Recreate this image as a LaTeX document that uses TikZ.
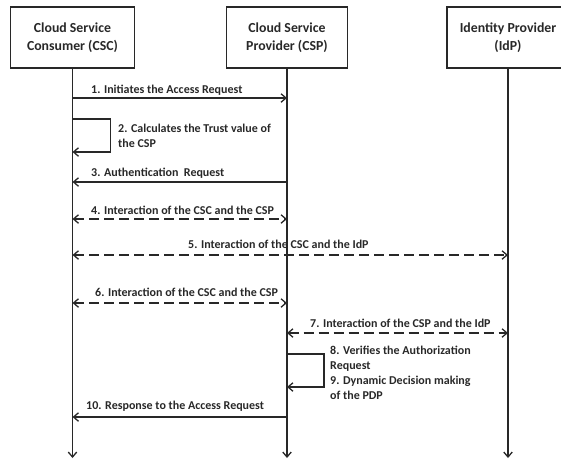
\documentclass[tikz,border=0pt]{standalone}
\usepackage{fontspec}
\setmainfont{Carlito}
\usepackage{tikz}
\usetikzlibrary{arrows.meta,positioning,calc}
\definecolor{seqgray}{RGB}{40,40,40}

\begin{document}
\begin{tikzpicture}[x=1pt, y=-1pt,
    actor/.style={rectangle, draw=seqgray, line width=1.5pt, minimum width=124pt, minimum height=61pt,
                 align=center, font=\fontsize{13.8}{18}\selectfont\bfseries, text=seqgray},
    life/.style={-{Straight Barb[length=5pt,width=8.5pt]}, line width=1.3pt, seqgray},
    msg/.style={-{Straight Barb[length=5pt,width=8.5pt]}, line width=1.3pt, seqgray},
    both/.style={{Straight Barb[length=5pt,width=8.5pt]}-{Straight Barb[length=5pt,width=8.5pt]},
                 line width=1.3pt, seqgray, dash pattern=on 10pt off 5pt},
    lbl/.style={anchor=west, inner sep=0pt, align=left, text=seqgray,
                font=\fontsize{12}{15}\selectfont\bfseries}
]
    \clip (0,0) rectangle (561,459);

    % participants
    \node[actor] (csc) at (72.5,37.5) {Cloud Service\\Consumer (CSC)};
    \node[actor, minimum width=121pt] (csp) at (287,37.5) {Cloud Service\\Provider (CSP)};
    \node[actor, minimum width=122pt] (idp) at (508,37.5) {Identity Provider\\(IdP)};

    % lifelines
    \coordinate (cscend) at (csc.south |- 0,458);
    \coordinate (cspend) at (csp.south |- 0,458);
    \coordinate (idpend) at (idp.south |- 0,458);
    \draw[life] (csc.south) -- (cscend);
    \draw[life] (csp.south) -- (cspend);
    \draw[life] (idp.south) -- (idpend);

    % message rows on the lifelines
    \foreach \r/\y in {1/98, 2a/119, 2b/152, 3/182, 4/219, 5/255, 6/303, 7/333, 8a/354, 8b/387, 10/417} {
        \coordinate (csc-\r) at (csc.south |- 0,\y);
        \coordinate (csp-\r) at (csp.south |- 0,\y);
        \coordinate (idp-\r) at (idp.south |- 0,\y);
    }

    % messages
    \draw[msg] (csc-1) -- (csp-1);
    \draw[msg] (csc-2a) -- ++(38,0) |- (csc-2b);
    \draw[msg] (csp-3) -- (csc-3);
    \draw[both] (csc-4) -- (csp-4);
    \draw[both] (csc-5) -- (idp-5);
    \draw[both] (csc-6) -- (csp-6);
    \draw[both] (csp-7) -- (idp-7);
    \draw[msg] (csp-8a) -- ++(37,0) |- (csp-8b);
    \draw[msg] (csp-10) -- (csc-10);

    % labels
    \node[lbl] (l1) at (91,90) {1. Initiates the Access Request};
    \node[lbl] (l2) at (118,135.5) {2. Calculates the Trust value of\\the CSP};
    \node[lbl] (l3) at (91,173) {3. Authentication~ Request};
    \node[lbl] (l4) at (91,210) {4. Interaction of the CSC and the CSP};
    \node[lbl] (l5) at (188,244) {5. Interaction of the CSC and the IdP};
    \node[lbl] (l6) at (95,292) {6. Interaction of the CSC and the CSP};
    \node[lbl] (l7) at (310,323) {7. Interaction of the CSP and the IdP};
    \node[lbl] (l8) at (330,373) {8. Verifies the Authorization\\Request\\9. Dynamic Decision making\\of the PDP};
    \node[lbl] (l10) at (86,406) {10. Response to the Access Request};
\end{tikzpicture}
\end{document}
